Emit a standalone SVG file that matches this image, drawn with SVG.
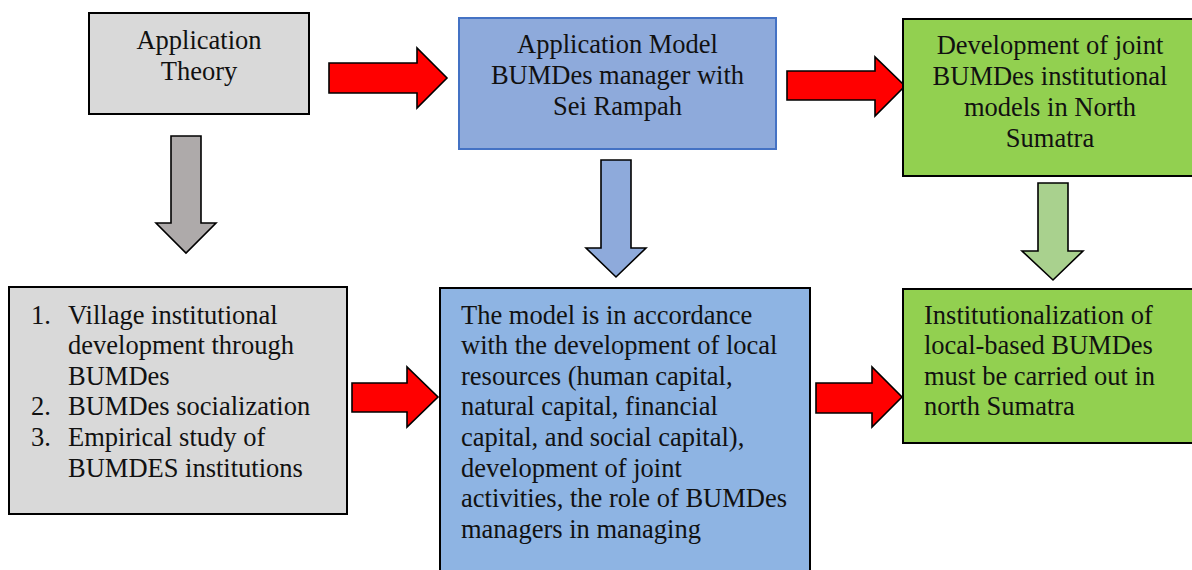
<svg xmlns="http://www.w3.org/2000/svg" width="1192" height="570" viewBox="0 0 1192 570">
<style>
text{font-family:'Times New Roman','Liberation Serif','DejaVu Serif',serif;font-size:26.5px;fill:#111}
.c{text-anchor:middle}
.box{stroke:#000;stroke-width:2}
.arr{stroke:#000;stroke-width:1.6;stroke-linejoin:miter}
.red{fill:#ff0000}
</style>
<rect width="1192" height="570" fill="#fff"/>
<g id="connectors">
<path class="arr red" d="M329,63 H417 V48 L447,78 L417,108 V93 H329 Z"/>
<path class="arr red" d="M787,71 H875 V57 L905,86 L875,116 V100 H787 Z"/>
<path class="arr red" d="M352,383 H407 V367 L438,397 L407,427 V412 H352 Z"/>
<path class="arr red" d="M816,383 H872 V367 L902,397 L872,427 V413 H816 Z"/>
<path class="arr" fill="#aeaaaa" d="M171,136 H201 V223 H216 L186,253 L156,223 H171 Z"/>
<path class="arr" fill="#8eaadb" d="M601,160 H631 V248 H646 L616,277 L586,248 H601 Z"/>
<path class="arr" fill="#a9d18e" d="M1038,183 H1068 V251 H1083 L1053,280 L1022,251 H1038 Z"/>
</g>
<g id="n1">
<rect class="box" x="89" y="13" width="220" height="101" fill="#d9d9d9"/>
<text class="c" x="199" y="48.5" font-family="Liberation Serif, serif">Application</text>
<text class="c" x="199" y="79.5" font-family="Liberation Serif, serif">Theory</text>
</g>
<g id="n2">
<rect x="459" y="18" width="317" height="131" fill="#8eaadb" stroke="#4472c4" stroke-width="2"/>
<text class="c" x="617.5" y="53">Application Model</text>
<text class="c" x="617.5" y="84">BUMDes manager with</text>
<text class="c" x="617.5" y="115">Sei Rampah</text>
</g>
<g id="n3">
<rect class="box" x="903" y="19" width="300" height="157" fill="#92d050"/>
<text class="c" x="1050" y="53.5">Development of joint</text>
<text class="c" x="1050" y="84.5">BUMDes institutional</text>
<text class="c" x="1050" y="115.5">models in North</text>
<text class="c" x="1050" y="146.5">Sumatra</text>
</g>
<g id="n4">
<rect class="box" x="9" y="287" width="338" height="227" fill="#d9d9d9"/>
<text x="31" y="323.5">1.</text>
<text x="68" y="323.5">Village institutional</text>
<text x="68" y="354">development through</text>
<text x="68" y="384.5">BUMDes</text>
<text x="31" y="415">2.</text>
<text x="68" y="415">BUMDes socialization</text>
<text x="31" y="446">3.</text>
<text x="68" y="446">Empirical study of</text>
<text x="68" y="476.5">BUMDES institutions</text>
</g>
<g id="n5">
<rect class="box" x="440" y="288" width="370" height="300" fill="#8eb4e3"/>
<text x="461" y="323.5">The model is in accordance</text>
<text x="461" y="354">with the development of local</text>
<text x="461" y="384.5">resources (human capital,</text>
<text x="461" y="415">natural capital, financial</text>
<text x="461" y="446">capital, and social capital),</text>
<text x="461" y="476.5">development of joint</text>
<text x="461" y="507">activities, the role of BUMDes</text>
<text x="461" y="538">managers in managing</text>
</g>
<g id="n6">
<rect class="box" x="903" y="289" width="300" height="154" fill="#92d050"/>
<text x="924" y="323.5">Institutionalization of</text>
<text x="924" y="354">local-based BUMDes</text>
<text x="924" y="384.5">must be carried out in</text>
<text x="924" y="415">north Sumatra</text>
</g>
</svg>
